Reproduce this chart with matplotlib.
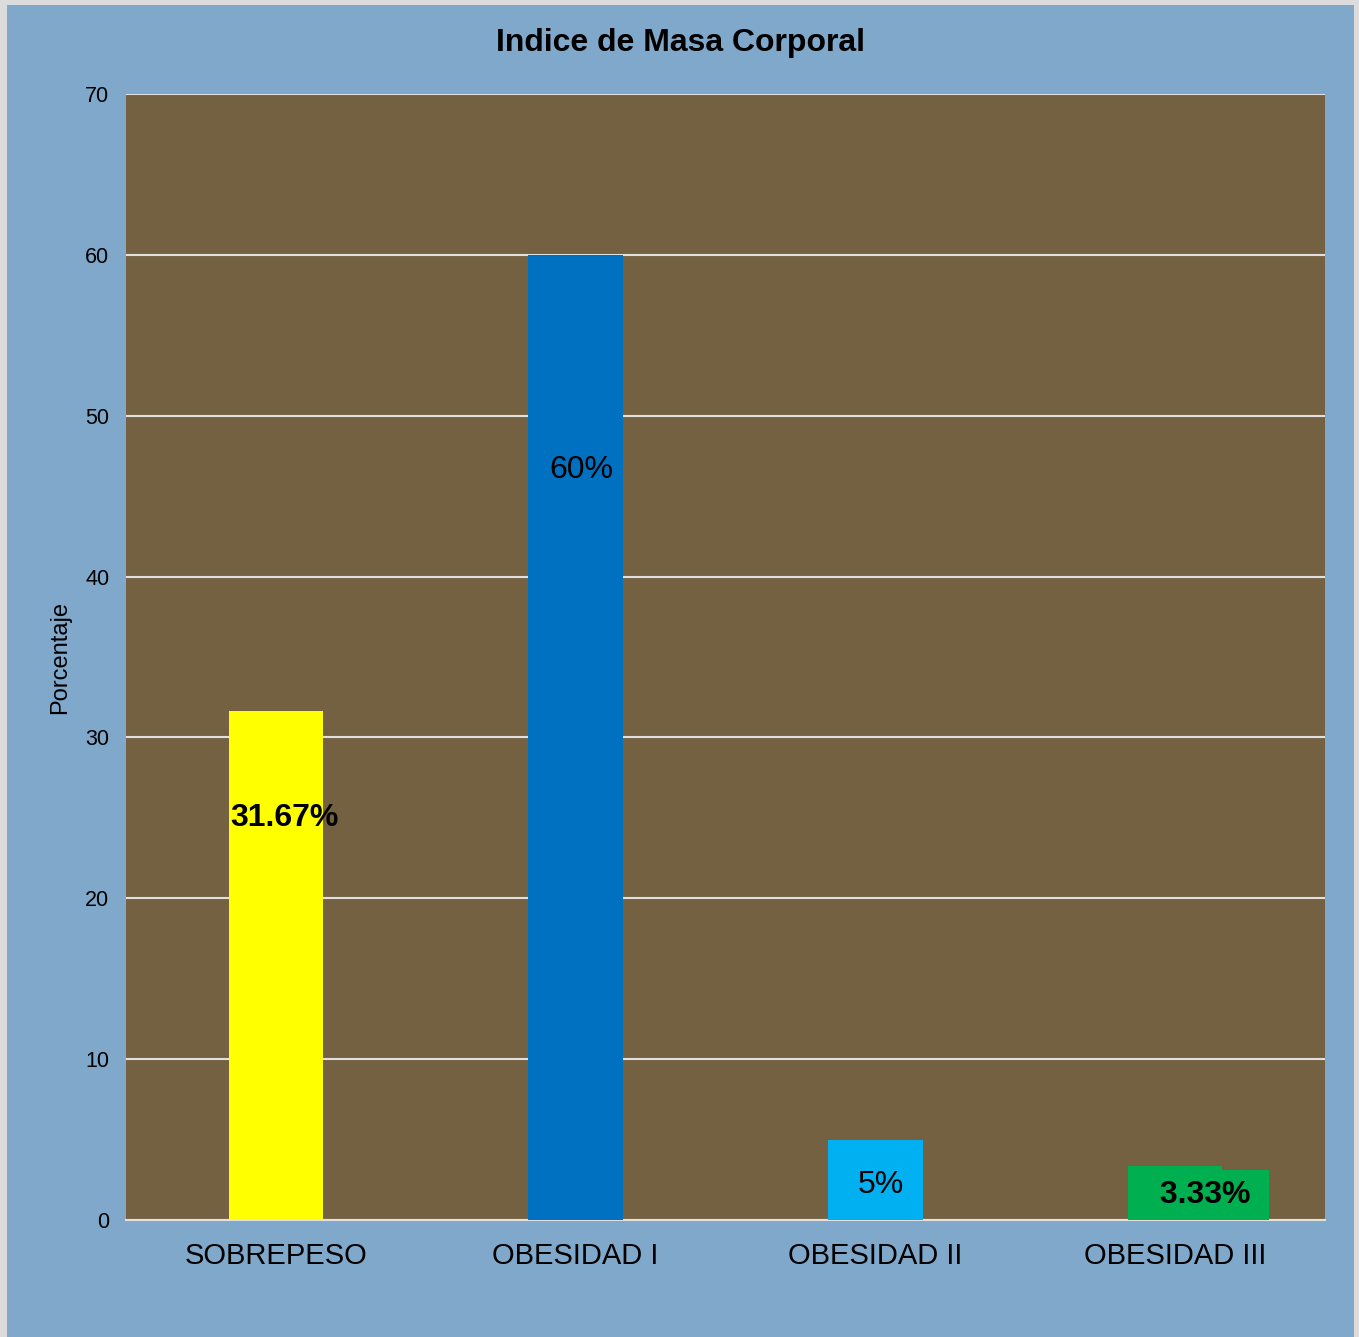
import matplotlib
matplotlib.use("Agg")
import matplotlib.pyplot as plt
from matplotlib.patches import Rectangle

categories = ["SOBREPESO", "OBESIDAD I", "OBESIDAD II", "OBESIDAD III"]
values = [31.67, 60, 5, 3.33]
bar_colors = ["#FFFF00", "#0070C0", "#00B0F0", "#00B050"]
label_text = ["31.67%", "60%", "5%", "3.33%"]
label_bold = [True, False, False, True]
yticks = [0, 10, 20, 30, 40, 50, 60, 70]

plt.rcParams["font.family"] = ["Liberation Sans", "DejaVu Sans"]

fig = plt.figure(figsize=(13.59, 13.37), dpi=100, facecolor="#DCDCDC")
# light blue chart area inside a thin grey frame
fig.patches.append(Rectangle((7 / 1359, 0), 1347 / 1359, 1332 / 1337,
                             transform=fig.transFigure, facecolor="#7FA8CB",
                             edgecolor="none", zorder=-1))

ax = fig.add_axes([126 / 1359, 117 / 1337, 1199 / 1359, 1126 / 1337])
ax.set_zorder(2)
ax.set_facecolor("#746142")

x = list(range(len(categories)))
ax.bar(x, values, width=0.316, color=bar_colors, zorder=3)

# value labels, placed inside the bars like the spreadsheet data labels
label_pos = [(0.03, 25.0), (0.02, 46.6), (0.02, 2.2), (0.1, 1.55)]
for i, (txt, bold) in enumerate(zip(label_text, label_bold)):
    dx, y = label_pos[i]
    kw = {}
    if i == 3:
        kw["bbox"] = dict(boxstyle="square,pad=0.3", facecolor=bar_colors[i],
                          edgecolor="none")
        txt = " " + txt + " "
    ax.text(i + dx, y, txt, ha="center", va="center", fontsize=23,
            fontweight="bold" if bold else "normal", color="black", zorder=4, **kw)

ax.set_xlim(-0.5, 3.5)
ax.set_ylim(0, 70)
ax.set_yticks(yticks)
ax.set_xticks(x)
ax.set_xticklabels(categories, fontsize=21)
ax.tick_params(axis="y", length=0, labelsize=15.5, pad=12)
ax.tick_params(axis="x", length=0, pad=16)
ax.grid(axis="y", color="#E0E0E0", linewidth=1.5, zorder=1)
for side in ["left", "right", "top"]:
    ax.spines[side].set_visible(False)
ax.spines["bottom"].set_color("#E0E0E0")
ax.spines["bottom"].set_linewidth(1.5)
ax.set_ylabel("Porcentaje", fontsize=17, labelpad=10)

fig.text(680 / 1359, 1 - 43 / 1337, "Indice de Masa Corporal", ha="center",
         va="center", fontsize=23, fontweight="bold")

fig.savefig("out.png", dpi=100, facecolor=fig.get_facecolor())
